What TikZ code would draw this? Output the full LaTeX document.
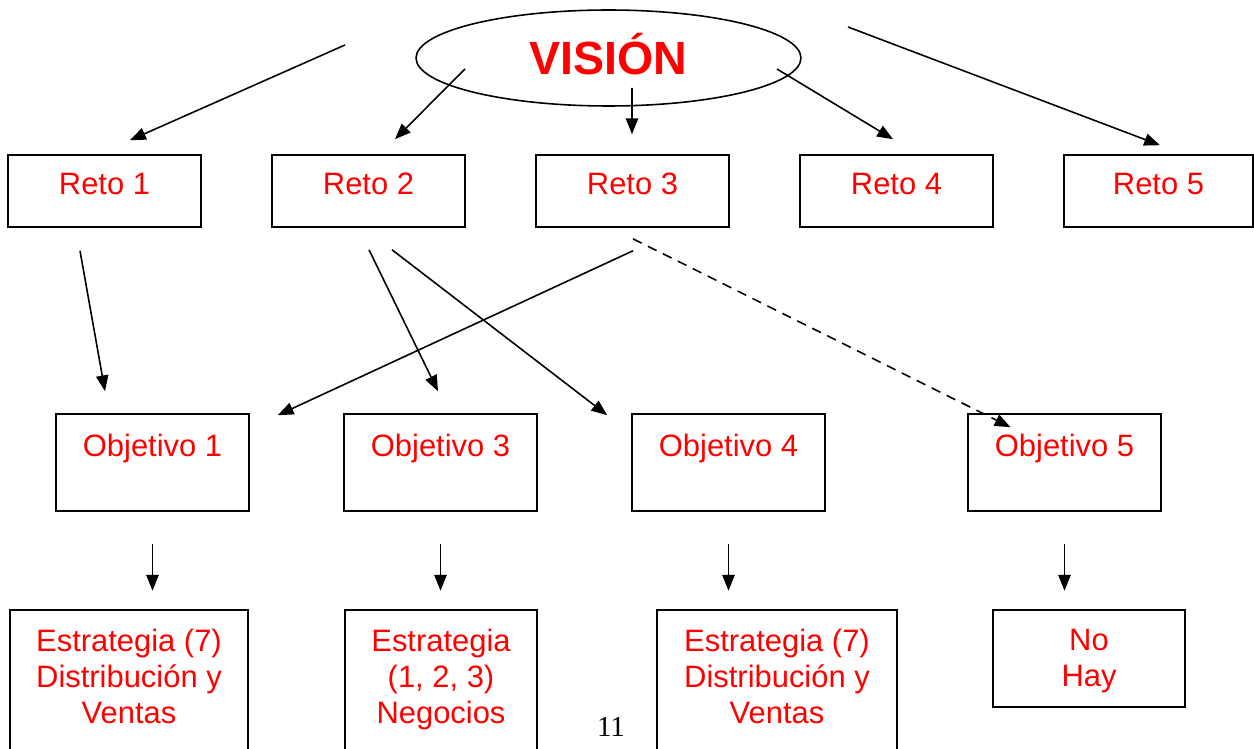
\documentclass[tikz,border=0pt]{standalone}
\usepackage{fontspec}
\setmainfont{Liberation Sans}
\newfontfamily\pagefont{Liberation Serif}
\usetikzlibrary{positioning,calc,arrows.meta,shapes.geometric}

\begin{document}
\begin{tikzpicture}[x=0.02cm,y=0.02cm,
  caja/.style={draw,line width=0.9pt,inner sep=0pt,text=red,font=\fontsize{17.6pt}{20.5pt}\selectfont},
  reto/.style={caja,minimum width=3.86cm,text height=0.8cm,text depth=0.64cm},
  obj/.style={caja,minimum width=3.86cm,text height=0.84cm,text depth=1.1cm},
  estr/.style={draw,line width=0.9pt,inner sep=0pt,anchor=north,minimum height=3.2cm},
  txt/.style={text=red,inner sep=0pt,align=center,font=\fontsize{17.6pt}{20.5pt}\selectfont},
  flecha/.style={line width=0.9pt,-{Triangle[length=9pt,width=7pt]}}]
			\useasboundingbox (0,0) rectangle (1254,748);
			\clip (0,0) rectangle (1254,748);
			% vision
			\node[draw,ellipse,line width=0.9pt,minimum width=7.7cm,minimum height=1.92cm,inner sep=0pt,text=red,text height=19pt,text depth=0pt,font=\bfseries\fontsize{26.5pt}{30pt}\selectfont] (vision) at (608.5,690) {VISIÓN};
			% retos
			\node[reto] (r1) at (104.5,557) {Reto 1};
			\node[reto] (r2) at (368.5,557) {Reto 2};
			\node[reto] (r3) at (632.5,557) {Reto 3};
			\node[reto] (r4) at (896.5,557) {Reto 4};
			\node[reto,minimum width=3.78cm] (r5) at (1158.5,557) {Reto 5};
			% objetivos
			\node[obj] (o1) at (152.5,285.5) {Objetivo 1};
			\node[obj] (o3) at (440.5,285.5) {Objetivo 3};
			\node[obj] (o4) at (728.5,285.5) {Objetivo 4};
			\node[obj] (o5) at (1064.5,285.5) {Objetivo 5};
			% estrategias
			\node[estr,minimum width=4.76cm] (e1) at (129,139) {};
			\node[estr,minimum width=3.84cm] (e2) at (441,139) {};
			\node[estr,minimum width=4.8cm] (e3) at (777,139) {};
			\node[estr,minimum width=3.84cm,minimum height=1.94cm] (e4) at (1089,139) {};
			\node[txt,below=0.39cm of e1.north] (t1) {Estrategia (7)\\Distribución y\\Ventas};
			\node[txt,below=0.39cm of e2.north] (t2) {Estrategia\\(1, 2, 3)\\Negocios};
			\node[txt,below=0.39cm of e3.north] (t3) {Estrategia (7)\\Distribución y\\Ventas};
			\node[txt,below=0.39cm of e4.north] (t4) {No\\Hay};
			\node[font=\pagefont\fontsize{16.5pt}{19pt}\selectfont] (pag) at (611,21) {11};
			% flechas
			\draw[flecha] ($(vision)+(-263.5,13)$) -- ($(r1.north)+(25.5,14)$);
			\draw[flecha] ($(vision)+(-143.5,-11)$) -- ($(r2.north)+(26.5,15)$);
			\draw[flecha] ($(vision)+(23.5,-30)$) -- ($(r3.north)+(-0.5,20)$);
			\draw[flecha] ($(vision)+(168.5,-11)$) -- ($(r4.north)+(-3.5,15)$);
			\draw[flecha] ($(vision)+(239.5,31)$) -- ($(r5.north)+(1.5,9)$);
			\draw[flecha] ($(r1.south)+(-24.5,-23)$) -- ($(o1.north)+(-47.5,22)$);
			\draw[flecha] ($(r2.south)+(0.5,-22)$) -- ($(o3.north)+(-2.5,22)$);
			\draw[flecha] ($(r2.south)+(23.5,-22)$) -- ($(o4.north west)+(-24,-2)$);
			\draw[flecha] ($(r3.south)+(0.5,-23)$) -- ($(o1.north east)+(28,-2)$);
			\draw[flecha,dash pattern=on 5.5pt off 4pt] ($(r3.south)+(0.5,-11)$) -- ($(o5.north)+(-54,-14)$);
			\foreach \o in {o1,o3,o4,o5}
				\draw[flecha] ($(\o.south)+(0,-32)$) -- ($(\o.south)+(0,-79)$);
\end{tikzpicture}
\end{document}
